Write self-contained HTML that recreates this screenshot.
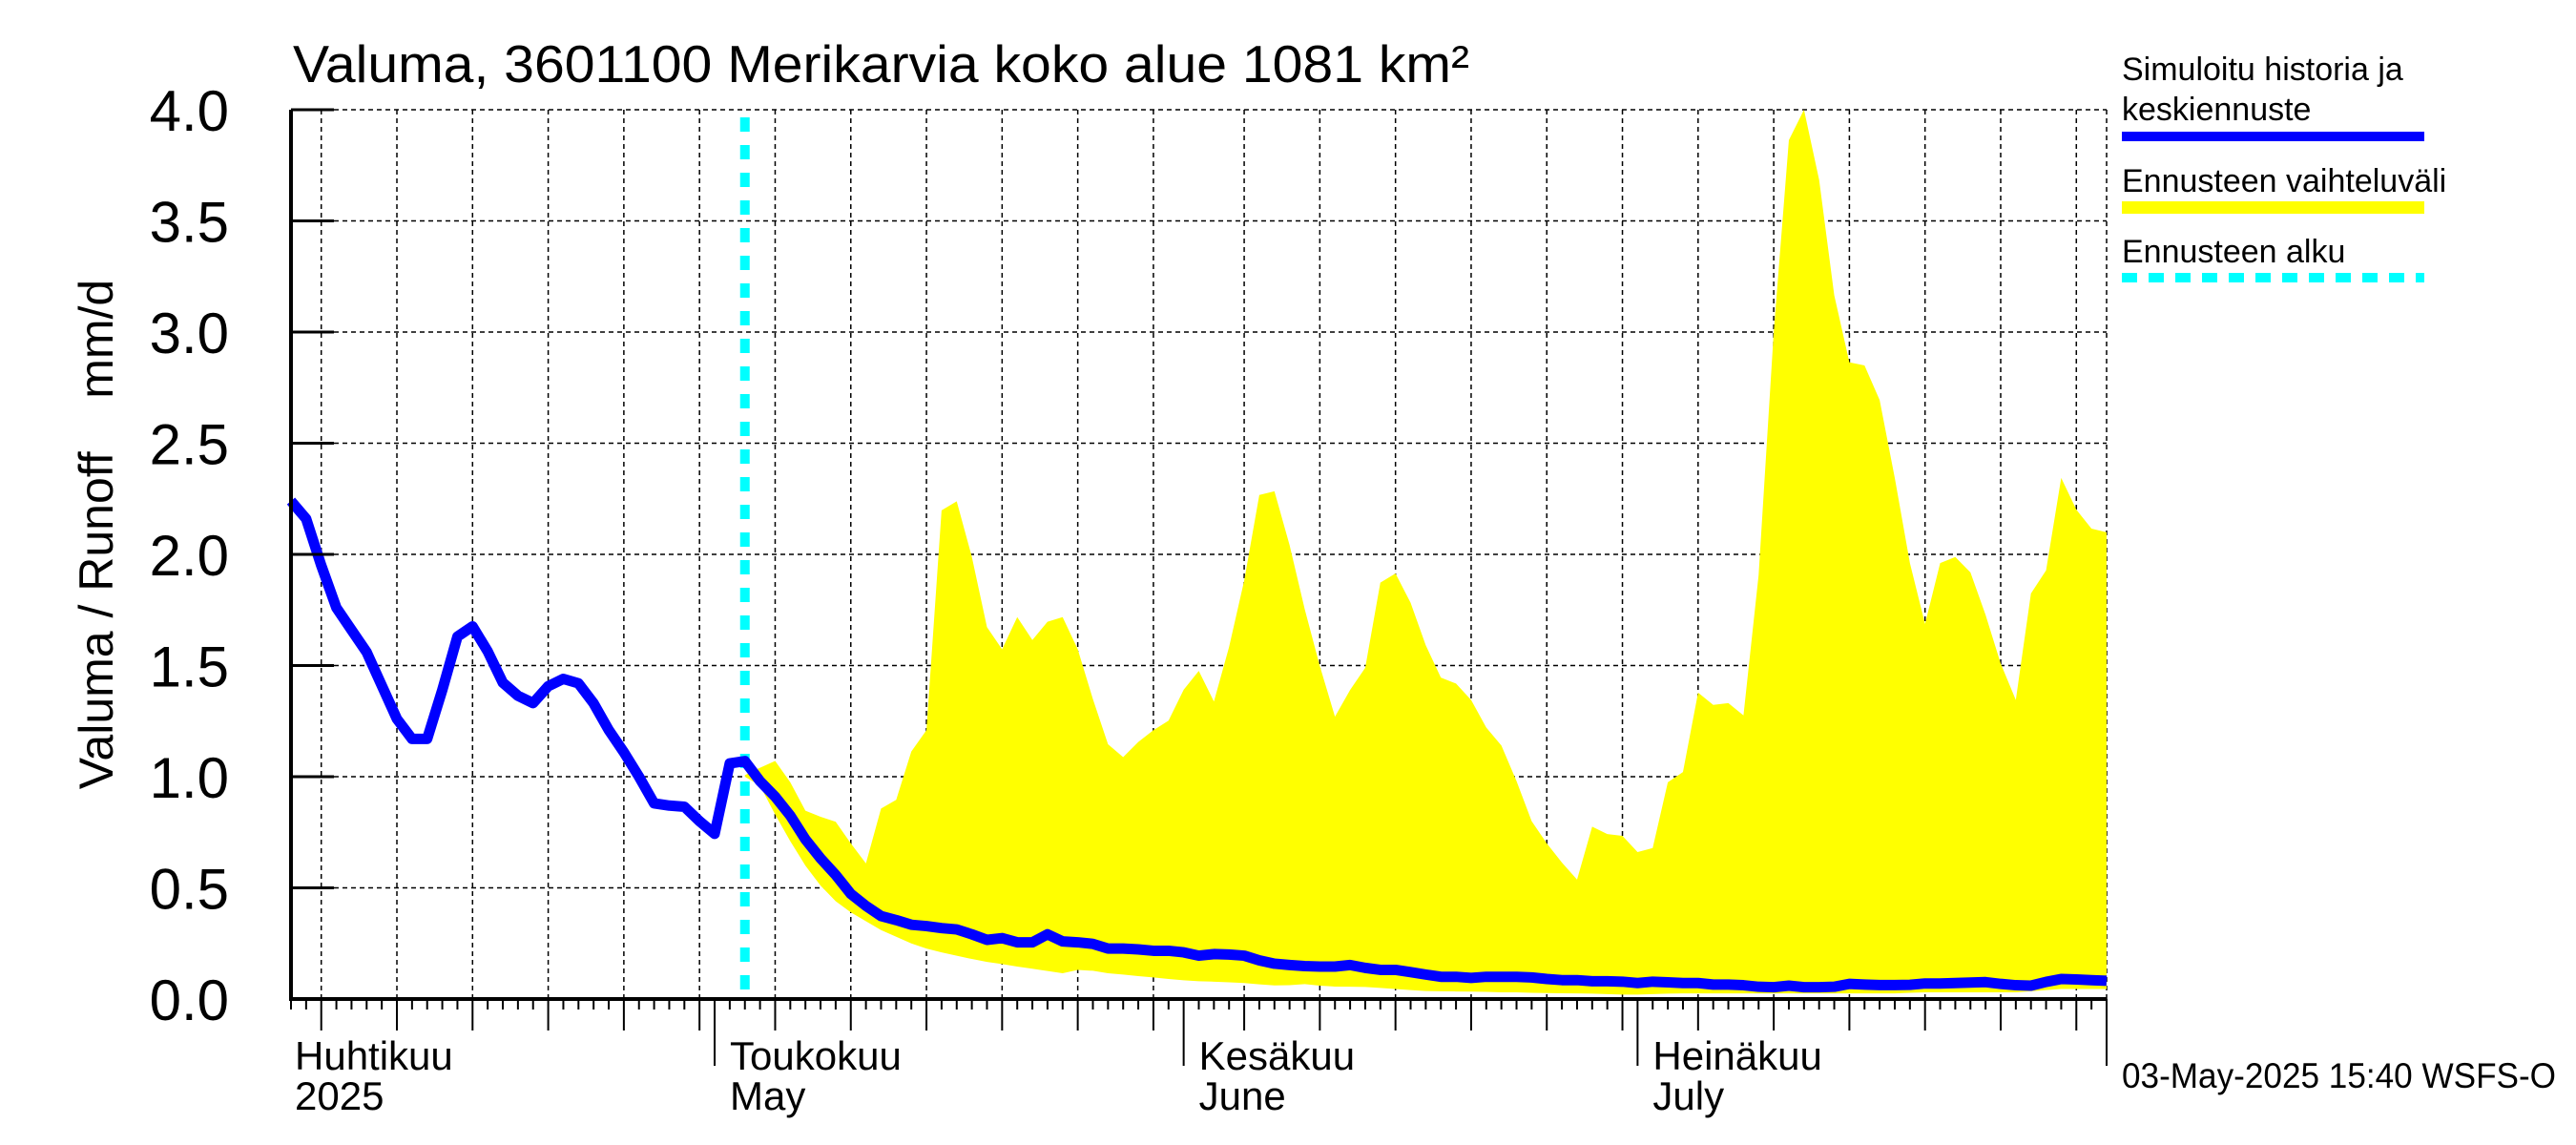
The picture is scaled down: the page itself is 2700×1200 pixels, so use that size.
<!DOCTYPE html>
<html><head><meta charset="utf-8"><title>Valuma Merikarvia</title>
<style>html,body{margin:0;padding:0;background:#fff}svg{display:block;font-family:"Liberation Sans",Arial,sans-serif}</style>
</head><body>
<svg id="chart" width="2700" height="1200" viewBox="0 0 2700 1200" xmlns="http://www.w3.org/2000/svg">
<text x="307" y="86" font-size="55" textLength="1233" lengthAdjust="spacingAndGlyphs">Valuma, 3601100 Merikarvia koko alue 1081 km²</text>
<text transform="translate(118,560) rotate(-90)" text-anchor="middle" font-size="50" style="white-space:pre" xml:space="preserve">Valuma / Runoff    mm/d</text>
<g id="grid"></g>
<g id="band"></g>
<g id="series"></g>
<g id="axes"></g>
<g>
<text x="2224" y="84" font-size="34">Simuloitu historia ja</text>
<text x="2224" y="126" font-size="34">keskiennuste</text>
<rect x="2224" y="138" width="317" height="10" fill="#0000ff"/>
<text x="2224" y="201" font-size="34">Ennusteen vaihteluväli</text>
<rect x="2224" y="211" width="317" height="13" fill="#ffff00"/>
<text x="2224" y="275" font-size="34">Ennusteen alku</text>
<line x1="2224" y1="291" x2="2541" y2="291" stroke="#00ffff" stroke-width="10" stroke-dasharray="16 12"/>
</g>
<text x="2224" y="1140" font-size="37" textLength="455" lengthAdjust="spacingAndGlyphs">03-May-2025 15:40 WSFS-O</text>
</svg>
<script>
// data: day 0 = 1 May 2025
const blueStartDay = -28;
const blueValues = [2.24,2.16,1.95,1.76,1.66,1.56,1.41,1.26,1.17,1.17,1.39,1.63,1.676,1.564,1.423,1.364,1.331,1.407,1.44,1.42,1.33,1.21,1.11,1.0,0.88,0.87,0.865,0.80,0.743,1.06,1.07,0.98,0.91,
0.825,0.718,0.633,0.558,0.473,0.419,0.373,0.355,0.334,0.328,0.319,0.313,0.291,0.266,0.274,0.255,0.255,0.291,0.259,0.255,0.248,0.227,0.227,0.223,0.217,0.217,0.210,0.195,0.202,0.2,0.195,0.174,0.159,0.153,0.148,0.146,0.146,0.153,0.140,0.131,0.131,0.121,0.11,
0.10,0.10,0.095,0.10,0.10,0.10,0.097,0.09,0.085,0.085,0.08,0.08,0.078,0.072,0.078,0.075,0.072,0.072,0.065,0.065,0.062,0.055,0.053,0.06,0.053,0.053,0.055,0.068,0.065,0.063,0.063,0.064,0.07,0.07,0.072,0.074,0.076,0.068,0.062,0.06,0.077,0.09,0.088,0.085,0.082];
const bandStartDay = 2;
const bandUpper = [1.007,1.04,1.071,0.975,0.847,0.82,0.797,0.70,0.61,0.857,0.896,1.113,1.209,2.198,2.239,1.989,1.673,1.573,1.718,1.615,1.697,1.718,1.573,1.349,1.146,1.088,1.156,1.209,1.252,1.391,1.476,1.338,1.583,1.882,2.267,2.284,2.042,1.754,1.498,1.27,1.39,1.49,1.873,1.914,1.782,1.591,1.446,1.419,1.345,1.221,1.14,0.98,0.80,0.70,0.614,0.537,0.775,0.742,0.734,0.661,0.679,0.975,1.021,1.378,1.323,1.331,1.276,1.906,3.0,3.863,4.0,3.685,3.165,2.864,2.850,2.694,2.344,1.961,1.687,1.961,1.988,1.919,1.728,1.509,1.345,1.824,1.928,2.344,2.201,2.116,2.099];
const bandLower = [1.0,0.96,0.83,0.71,0.60,0.51,0.44,0.39,0.35,0.31,0.28,0.25,0.227,0.21,0.195,0.18,0.167,0.157,0.146,0.136,0.126,0.116,0.131,0.127,0.116,0.11,0.103,0.097,0.09,0.084,0.08,0.078,0.075,0.072,0.066,0.061,0.062,0.067,0.06,0.056,0.055,0.054,0.05,0.045,0.04,0.036,
0.035,0.034,0.033,0.032,0.03,0.03,0.028,0.027,0.026,0.025,0.024,0.022,0.02,0.02,0.022,0.024,0.025,0.025,0.025,0.025,0.025,0.025,0.025,0.025,0.025,0.025,0.025,0.025,0.025,0.025,0.025,0.028,0.03,0.03,0.03,0.03,0.03,0.03,0.03,0.035,0.04,0.045,0.045,0.045,0.045];
const forecastStartDay = 2;
const yTickLabels = ["0.0","0.5","1.0","1.5","2.0","2.5","3.0","3.5","4.0"];
const yTickValues = [0,0.5,1,1.5,2,2.5,3,3.5,4];
const monthStarts = [-30,0,31,61,92];
const monthLen = [30,31,30,31];
const monthNamesFi = ["Huhtikuu","Toukokuu","Kesäkuu","Heinäkuu"];
const monthNamesEn = ["2025","May","June","July"];

const X0=305,X1=2208,Y0=1047,Y1=115,DMIN=-28,DMAX=92,VMAX=4;
function xs(d){return X0+(d-DMIN)*(X1-X0)/(DMAX-DMIN);}
function ys(v){return Y0-v*(Y0-Y1)/VMAX;}
const NS="http://www.w3.org/2000/svg";
function mk(tag,attrs,parent){const e=document.createElementNS(NS,tag);for(const k in attrs)e.setAttribute(k,attrs[k]);parent.appendChild(e);return e;}
const grid=document.getElementById('grid'),band=document.getElementById('band'),series=document.getElementById('series'),axes=document.getElementById('axes');

yTickValues.forEach((v,i)=>{
  const y=ys(v);
  if(v>0){const g=mk('line',{x1:X0,y1:y,x2:X1,y2:y,stroke:'#000','stroke-width':1.5,'stroke-dasharray':'5 4'},grid);
  
  }
  const t=mk('line',{x1:X0,y1:y,x2:X0+45,y2:y,stroke:'#000','stroke-width':3},axes);
  
  
  const l=mk('text',{x:240,y:y+22,'text-anchor':'end','font-size':60},axes);
  
  
  l.textContent=yTickLabels[i];
});
for(let m=0;m<monthLen.length;m++){
  const s=monthStarts[m];
  for(let dom=1;dom<=monthLen[m];dom++){
    const d=s+dom-1; if(d<DMIN||d>DMAX) continue;
    const x=xs(d);
    let len=11;
    if(dom%5===0){len=33;
      const g=mk('line',{x1:x,y1:Y1,x2:x,y2:Y0,stroke:'#000','stroke-width':1.5,'stroke-dasharray':'5 4'},grid);
      
      }
    if(dom===1) len=70;
    const t=mk('line',{x1:x,y1:Y0,x2:x,y2:Y0+len,stroke:'#000','stroke-width':2},axes);
    
    
  }
}
{const g=mk('line',{x1:X1,y1:Y1,x2:X1,y2:Y0,stroke:'#000','stroke-width':1.5,'stroke-dasharray':'5 4'},grid);


const t=mk('line',{x1:X1,y1:Y0,x2:X1,y2:Y0+70,stroke:'#000','stroke-width':2},axes);

}
monthNamesFi.forEach((n,i)=>{
  const x=i===0?309:xs(monthStarts[i])+16;
  const a=mk('text',{x:x,y:1121,'font-size':42},axes);
  
  
  a.textContent=n;
  const b=mk('text',{x:x,y:1163,'font-size':42},axes);
  
  
  b.textContent=monthNamesEn[i];
});
{let pts=[];
 bandUpper.forEach((v,i)=>pts.push(xs(bandStartDay+i)+','+ys(v)));
 for(let i=bandLower.length-1;i>=0;i--) pts.push(xs(bandStartDay+i)+','+ys(bandLower[i]));
 const p=mk('polygon',{points:pts.join(' '),fill:'#ffff00',stroke:'none'},band);
 
 }
{const c=mk('line',{x1:xs(forecastStartDay),y1:ys(4)+8,x2:xs(forecastStartDay),y2:Y0,stroke:'#00ffff','stroke-width':10,'stroke-dasharray':'15 14'},series);

}
{const pts=blueValues.map((v,i)=>xs(blueStartDay+i)+','+ys(v)).join(' ');
 const p=mk('polyline',{points:pts,fill:'none',stroke:'#0000ff','stroke-width':11,'stroke-linejoin':'round'},series);
 
 }
{const a=mk('line',{x1:X0,y1:Y1,x2:X0,y2:Y0+2,stroke:'#000','stroke-width':4},axes);


const b=mk('line',{x1:X0-2,y1:Y0,x2:X1,y2:Y0,stroke:'#000','stroke-width':4},axes);

}
</script>
</body></html>
